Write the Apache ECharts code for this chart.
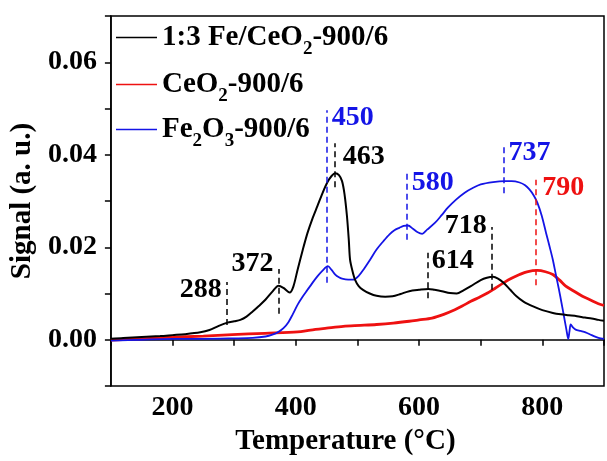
<!DOCTYPE html>
<html>
<head>
<meta charset="utf-8">
<script src="https://cdn.jsdelivr.net/npm/echarts@6/dist/echarts.min.js"></script>
<style>
  html, body { margin: 0; padding: 0; background: #fff; }
  #chart { width: 607px; height: 461px; }
</style>
</head>
<body>
<div id="chart"></div>
<script>
// TPR-style signal traces: [temperature (°C), signal (a. u.)]
const feCeO2 = [
  [100,0.0002],[120,0.0004],[150,0.0006],[180,0.0008],[200,0.0010],[220,0.0012],[245,0.0016],
  [260,0.0021],[275,0.0030],[289,0.0037],[300,0.0040],[310,0.0043],[320,0.0050],[330,0.0061],
  [340,0.0073],[351,0.0087],[362,0.0104],[372,0.0117],[380,0.0112],[390,0.0102],[396,0.0115],
  [403,0.0152],[411,0.0193],[419,0.0231],[427,0.0262],[435,0.0289],[443,0.0316],[451,0.0340],
  [458,0.0354],[464,0.0360],[470,0.0356],[475,0.0343],[479,0.0315],[483,0.0267],[486,0.0215],
  [488,0.0173],[492,0.0148],[496,0.0130],[502,0.0116],[509,0.0108],[520,0.0100],[531,0.0095],
  [545,0.0093],[557,0.0094],[570,0.0099],[584,0.0105],[600,0.0108],[615,0.0110],[625,0.0108],
  [637,0.0105],[650,0.0101],[661,0.0100],[672,0.0107],[684,0.0116],[700,0.0129],[710,0.0134],
  [720,0.0136],[728,0.0132],[737,0.0123],[748,0.0108],[758,0.0094],[770,0.0082],[785,0.0072],
  [800,0.0064],[817,0.0058],[830,0.0055],[843,0.0053],[856,0.0051],[869,0.0048],[880,0.0046],
  [891,0.0043],[900,0.0041]
];
const ceO2 = [
  [100,-0.0001],[150,0.0002],[192,0.0005],[250,0.0008],[297,0.0011],[350,0.0014],[403,0.0017],
  [424,0.0021],[450,0.0025],[477,0.0029],[505,0.0031],[531,0.0033],[558,0.0036],[584,0.0040],
  [600,0.0043],[621,0.0047],[640,0.0055],[658,0.0065],[670,0.0073],[684,0.0083],[698,0.0092],
  [711,0.0101],[724,0.0112],[737,0.0123],[750,0.0133],[763,0.0141],[775,0.0147],[792,0.0150],
  [805,0.0147],[817,0.0141],[828,0.0129],[838,0.0116],[850,0.0106],[865,0.0094],[878,0.0086],
  [891,0.0078],[900,0.0074]
];
const fe2O3 = [
  [100,-0.0002],[150,0.0000],[200,0.0002],[250,0.0002],[300,0.0003],[330,0.0004],[351,0.0007],
  [362,0.0011],[372,0.0017],[380,0.0025],[388,0.0038],[395,0.0055],[403,0.0076],[411,0.0093],
  [419,0.0108],[427,0.0123],[435,0.0137],[443,0.0149],[452,0.0159],[458,0.0151],[464,0.0141],
  [470,0.0135],[475,0.0132],[485,0.0130],[494,0.0130],[502,0.0138],[510,0.0152],[520,0.0172],
  [531,0.0195],[542,0.0213],[552,0.0228],[560,0.0237],[568,0.0242],[575,0.0246],[582,0.0247],
  [590,0.0240],[597,0.0233],[605,0.0229],[613,0.0238],[626,0.0253],[637,0.0270],[647,0.0286],
  [660,0.0303],[674,0.0318],[687,0.0328],[700,0.0336],[720,0.0341],[739,0.0343],[750,0.0343],
  [763,0.0340],[772,0.0334],[779,0.0325],[786,0.0312],[792,0.0296],[799,0.0268],[806,0.0231],
  [812,0.0200],[817,0.0173],[822,0.0140],[827,0.0108],[831,0.0080],[835,0.0051],[839,0.0022],
  [842,0.0002],[844,0.0018],[846,0.0033],[850,0.0026],[854,0.0022],[862,0.0019],[870,0.0016],
  [880,0.0010],[891,0.0004],[900,0.0002]
];

// Peak temperatures (°C)
const feCeO2Peaks = [288, 372, 463, 614, 718];
const fe2O3Peaks = [450, 580, 737];
const ceO2Peaks = [790];

// Dashed marker extents and label anchor: [top, bottom, label centre] in signal units, label side, gap
const feCeO2Marks = [[0.0125,0.0032,0.0108,'left',5],[0.0153,0.0056,0.0164,'left',5],[0.0425,0.0330,0.0395,'right',8],[0.0188,0.0090,0.0170,'right',4],[0.0244,0.0108,0.0246,'left',5]];
const fe2O3Marks = [[0.0496,0.0123,0.0481,'right',5],[0.0363,0.0216,0.0339,'right',5],[0.0421,0.0317,0.0404,'right',5]];
const ceO2Marks = [[0.0346,0.0118,0.0329,'right',6]];

// Axis ticks
const xLabelTicks = [200, 400, 600, 800];
const yLabelTicks = [0, 0.02, 0.04, 0.06];

const FONT = "'Liberation Serif', 'Times New Roman', serif";
const BLACK = '#000000', RED = '#ee1111', BLUE = '#1414e6';

const legendText = {
  '1:3 Fe/CeO2-900/6': '{a|1:3 Fe/CeO}{s|2}{a|-900/6}',
  'CeO2-900/6': '{a|CeO}{s|2}{a|-900/6}',
  'Fe2O3-900/6': '{a|Fe}{s|2}{a|O}{s|3}{a|-900/6}'
};

function marks(peaks, layout, color) {
  return {
    markLine: {
      silent: true,
      symbol: ['none', 'none'],
      label: { show: false },
      lineStyle: { color: color, type: [6, 4], width: 1.5 },
      data: peaks.map((t, i) => [{ coord: [t, layout[i][1]] }, { coord: [t, layout[i][0]] }])
    },
    markPoint: {
      silent: true,
      symbol: 'circle',
      symbolSize: 0,
      data: peaks.map((t, i) => ({
        coord: [t, layout[i][2]],
        value: t,
        label: { position: layout[i][3], distance: layout[i][4] }
      })),
      label: {
        show: true,
        formatter: p => String(p.value),
        color: color,
        fontFamily: FONT,
        fontWeight: 'bold',
        fontSize: 28
      }
    }
  };
}

function legendFor(name, color, top) {
  return {
    data: [{ name: name, icon: 'rect', itemStyle: { color: color, borderWidth: 0 } }],
    left: 116,
    top: top,
    padding: 0,
    itemWidth: 41,
    itemHeight: 1.6,
    selectedMode: false,
    formatter: n => legendText[n],
    textStyle: {
      rich: {
        a: { fontFamily: FONT, fontWeight: 'bold', fontSize: 29, color: '#000', lineHeight: 30 },
        s: { fontFamily: FONT, fontWeight: 'bold', fontSize: 19, color: '#000', lineHeight: 19, padding: [24, 0, 0, 0] }
      }
    }
  };
}

const chart = echarts.init(document.getElementById('chart'), null, { renderer: 'canvas' });
chart.setOption({
  animation: false,
  backgroundColor: '#fff',
  grid: { left: 110, right: -6, top: 16, bottom: 75, show: true, borderColor: '#000', borderWidth: 1.5 },
  legend: [
    legendFor('1:3 Fe/CeO2-900/6', BLACK, 16),
    legendFor('CeO2-900/6', RED, 63),
    legendFor('Fe2O3-900/6', BLUE, 108)
  ],
  xAxis: {
    type: 'value',
    min: 100, max: 900, interval: 100,
    name: 'Temperature (°C)',
    nameLocation: 'middle',
    nameGap: 30,
    nameTextStyle: { fontFamily: FONT, fontWeight: 'bold', fontSize: 29, color: '#000', padding: [0, 24, 0, 0] },
    axisLine: { lineStyle: { color: '#000', width: 1.5 } },
    axisTick: { show: true, length: 6, lineStyle: { color: '#000', width: 1.5 } },
    splitLine: { show: false },
    axisLabel: {
      margin: 8,
      fontFamily: FONT, fontWeight: 'bold', fontSize: 28, color: '#000',
      formatter: v => xLabelTicks.includes(Math.round(v)) ? String(Math.round(v)) : ''
    }
  },
  yAxis: {
    type: 'value',
    min: -0.01, max: 0.07, interval: 0.01,
    name: 'Signal (a. u.)',
    nameLocation: 'middle',
    nameRotate: 90,
    nameGap: 61,
    nameTextStyle: { fontFamily: FONT, fontWeight: 'bold', fontSize: 29, color: '#000' },
    axisLine: { show: true, lineStyle: { color: '#000', width: 1.5 } },
    axisTick: { show: true, length: 6, lineStyle: { color: '#000', width: 1.5 } },
    splitLine: { show: false },
    axisLabel: {
      margin: 14,
      fontFamily: FONT, fontWeight: 'bold', fontSize: 28, color: '#000',
      formatter: v => {
        const r = Math.round(v * 100) / 100;
        return yLabelTicks.some(t => Math.abs(t - r) < 1e-9) ? Math.abs(r).toFixed(2) : '';
      }
    }
  },
  series: [
    Object.assign({
      name: '1:3 Fe/CeO2-900/6', type: 'line', data: feCeO2, showSymbol: false, symbol: 'none',
      smooth: 0.3, lineStyle: { color: BLACK, width: 2 }, itemStyle: { color: BLACK }, z: 3
    }, marks(feCeO2Peaks, feCeO2Marks, BLACK)),
    Object.assign({
      name: 'CeO2-900/6', type: 'line', data: ceO2, showSymbol: false, symbol: 'none',
      smooth: 0.3, lineStyle: { color: RED, width: 2.8 }, itemStyle: { color: RED }, z: 2
    }, marks(ceO2Peaks, ceO2Marks, RED)),
    Object.assign({
      name: 'Fe2O3-900/6', type: 'line', data: fe2O3, showSymbol: false, symbol: 'none',
      smooth: 0.3, lineStyle: { color: BLUE, width: 1.8 }, itemStyle: { color: BLUE }, z: 2
    }, marks(fe2O3Peaks, fe2O3Marks, BLUE))
  ]
});
</script>
</body>
</html>
